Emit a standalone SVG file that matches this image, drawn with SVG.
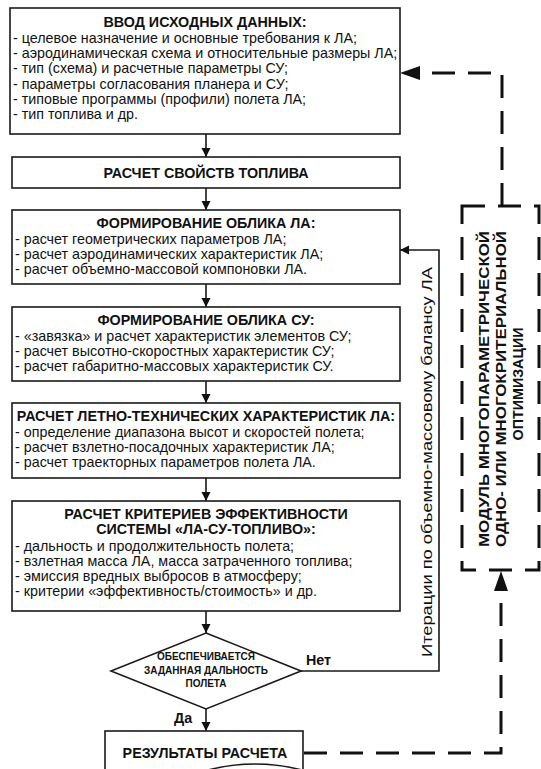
<svg xmlns="http://www.w3.org/2000/svg" width="541" height="769" viewBox="0 0 541 769">
<defs>
<style>
.box{fill:#fff;stroke:#1a1a1a;stroke-width:1.6}
.t{font-family:"Liberation Sans",Arial,sans-serif;font-size:14.3px;fill:#111}
.b{font-family:"Liberation Sans",Arial,sans-serif;font-size:14.3px;font-weight:bold;fill:#111}
.c{text-anchor:middle}
.ln{fill:none;stroke:#1a1a1a;stroke-width:1.6}
.dl{fill:none;stroke:#111;stroke-width:3;stroke-dasharray:23 13}
.dia{font-family:"Liberation Sans",Arial,sans-serif;font-size:10px;font-weight:bold;fill:#111;text-anchor:middle}
</style>
<marker id="a" viewBox="0 0 10 10" refX="10" refY="5" markerUnits="userSpaceOnUse" markerWidth="9" markerHeight="10" orient="auto"><path d="M0,0 L10,5 L0,10 z" fill="#111"/></marker>
</defs>
<rect width="541" height="769" fill="#fff"/>

<g id="connectors">
<path class="ln" d="M206,134 V157" marker-end="url(#a)"/>
<path class="ln" d="M206,188 V210" marker-end="url(#a)"/>
<path class="ln" d="M206,284 V307" marker-end="url(#a)"/>
<path class="ln" d="M206,381 V403" marker-end="url(#a)"/>
<path class="ln" d="M206,478 V501" marker-end="url(#a)"/>
<path class="ln" d="M206,611 V633" marker-end="url(#a)"/>
<path class="ln" d="M206,709 V731" marker-end="url(#a)"/>
<path class="ln" d="M301,671 H439 V250 H400" marker-end="url(#a)"/>
<path class="dl" d="M304,753 H501 V592"/>
<path d="M501,571 L508,591 L494,591 z" fill="#111"/>
<path class="dl" d="M502,206 V73 H420"/>
<path d="M400,73 L420,66 L420,80 z" fill="#111"/>
</g>

<g id="n1">
<rect class="box" x="10" y="8" width="390" height="126"/>
<text class="b c" x="205" y="27">ВВОД ИСХОДНЫХ ДАННЫХ:</text>
<text class="t" x="13" y="43">- целевое назначение и основные требования к ЛА;</text>
<text class="t" x="13" y="58">- аэродинамическая схема и относительные размеры ЛА;</text>
<text class="t" x="13" y="73">- тип (схема) и расчетные параметры СУ;</text>
<text class="t" x="13" y="89">- параметры согласования планера и СУ;</text>
<text class="t" x="13" y="104">- типовые программы (профили) полета ЛА;</text>
<text class="t" x="13" y="119">- тип топлива и др.</text>
</g>

<g id="n2">
<rect class="box" x="12" y="157" width="388" height="31"/>
<text class="b c" x="206" y="178">РАСЧЕТ СВОЙСТВ ТОПЛИВА</text>
</g>

<g id="n3">
<rect class="box" x="12" y="210" width="388" height="74"/>
<text class="b c" x="206" y="228">ФОРМИРОВАНИЕ ОБЛИКА ЛА:</text>
<text class="t" x="15" y="244">- расчет геометрических параметров ЛА;</text>
<text class="t" x="15" y="259">- расчет аэродинамических характеристик ЛА;</text>
<text class="t" x="15" y="274">- расчет объемно-массовой компоновки ЛА.</text>
</g>

<g id="n4">
<rect class="box" x="12" y="307" width="388" height="74"/>
<text class="b c" x="206" y="325">ФОРМИРОВАНИЕ ОБЛИКА СУ:</text>
<text class="t" x="15" y="341">- «завязка» и расчет характеристик элементов СУ;</text>
<text class="t" x="15" y="356">- расчет высотно-скоростных характеристик СУ;</text>
<text class="t" x="15" y="371">- расчет габаритно-массовых характеристик СУ.</text>
</g>

<g id="n5">
<rect class="box" x="12" y="403" width="388" height="75"/>
<text class="b c" x="206" y="421">РАСЧЕТ ЛЕТНО-ТЕХНИЧЕСКИХ ХАРАКТЕРИСТИК ЛА:</text>
<text class="t" x="15" y="437">- определение диапазона высот и скоростей полета;</text>
<text class="t" x="15" y="452">- расчет взлетно-посадочных характеристик ЛА;</text>
<text class="t" x="15" y="467">- расчет траекторных параметров полета ЛА.</text>
</g>

<g id="n6">
<rect class="box" x="12" y="501" width="388" height="110"/>
<text class="b c" x="206" y="519">РАСЧЕТ КРИТЕРИЕВ ЭФФЕКТИВНОСТИ</text>
<text class="b c" x="206" y="534">СИСТЕМЫ «ЛА-СУ-ТОПЛИВО»:</text>
<text class="t" x="15" y="551">- дальность и продолжительность полета;</text>
<text class="t" x="15" y="566">- взлетная масса ЛА, масса затраченного топлива;</text>
<text class="t" x="15" y="581">- эмиссия вредных выбросов в атмосферу;</text>
<text class="t" x="15" y="596">- критерии «эффективность/стоимость» и др.</text>
</g>

<g id="n7">
<path class="box" d="M206,633 L301,671 L206,709 L111,671 z"/>
<text class="dia" x="206" y="660">ОБЕСПЕЧИВАЕТСЯ</text>
<text class="dia" x="206" y="674">ЗАДАННАЯ ДАЛЬНОСТЬ</text>
<text class="dia" x="206" y="687">ПОЛЕТА</text>
</g>

<text class="b" x="306" y="665">Нет</text>
<text class="b" x="174" y="723">Да</text>

<g id="n8">
<rect class="box" x="105" y="731" width="198" height="60"/>
<text class="b c" x="205" y="758">РЕЗУЛЬТАТЫ РАСЧЕТА</text>
<path class="ln" d="M208,770 Q255,758 302,770"/>
</g>

<g id="n9">
<rect class="dl" x="462" y="206" width="77" height="364"/>
<text class="b c" x="489" y="389" transform="rotate(-90 489 389)" font-size="16" textLength="316" lengthAdjust="spacingAndGlyphs">МОДУЛЬ МНОГОПАРАМЕТРИЧЕСКОЙ</text>
<text class="b c" x="506" y="389" transform="rotate(-90 506 389)" font-size="16" textLength="316" lengthAdjust="spacingAndGlyphs">ОДНО- ИЛИ МНОГОКРИТЕРИАЛЬНОЙ</text>
<text class="b c" x="523" y="384" transform="rotate(-90 523 384)" font-size="16">ОПТИМИЗАЦИИ</text>
</g>

<text class="t c" x="432" y="462" transform="rotate(-90 432 462)" font-size="16" textLength="390" lengthAdjust="spacingAndGlyphs">Итерации по объемно-массовому балансу ЛА</text>
</svg>
